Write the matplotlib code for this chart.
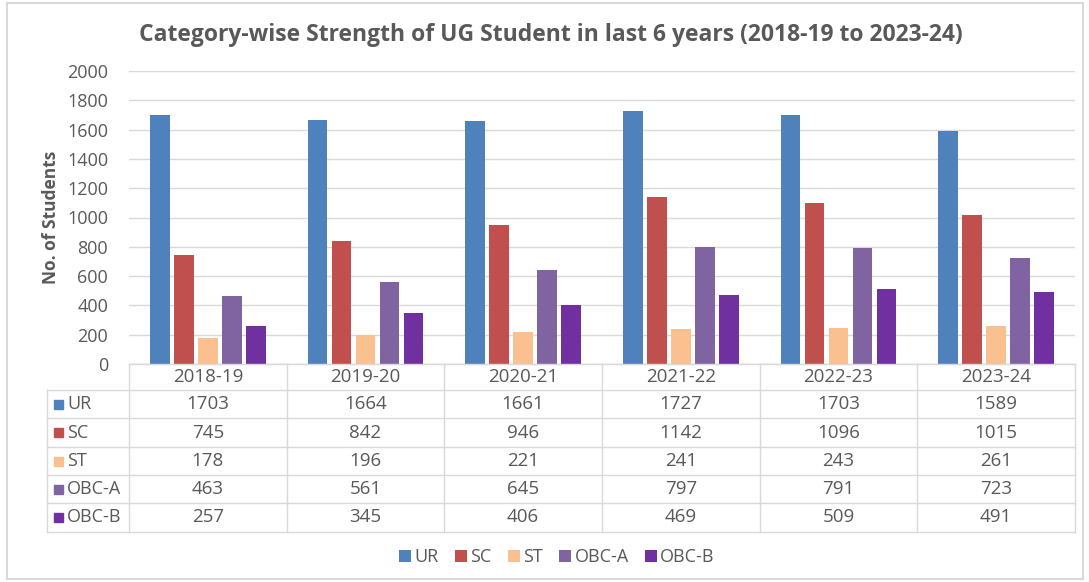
import matplotlib.pyplot as plt
from matplotlib.patches import Rectangle
import numpy as np

plt.rcParams['font.family'] = ['Open Sans', 'DejaVu Sans']

years = ['2018-19', '2019-20', '2020-21', '2021-22', '2022-23', '2023-24']
categories = ['UR', 'SC', 'ST', 'OBC-A', 'OBC-B']
UR = [1703, 1664, 1661, 1727, 1703, 1589]
SC = [745, 842, 946, 1142, 1096, 1015]
ST = [178, 196, 221, 241, 243, 261]
OBC_A = [463, 561, 645, 797, 791, 723]
OBC_B = [257, 345, 406, 469, 509, 491]
series = [UR, SC, ST, OBC_A, OBC_B]
colors = ['#4F81BD', '#C0504D', '#FAC090', '#8064A2', '#7030A0']

W, H = 1089, 582
txt = '#595959'
grid_c = '#D9D9D9'

def fx(px):
    return px / W

def fy(py):
    return 1 - py / H

fig = plt.figure(figsize=(W / 100, H / 100), dpi=100)

# outer border
fig.patches.append(Rectangle((fx(7), fy(579)), fx(1083) - fx(7), fy(3) - fy(579),
                             transform=fig.transFigure, fill=False,
                             edgecolor='#D9D9D9', linewidth=1.5))

# plot area
x0, x1, ytop, ybot = 129, 1075, 71, 364
ax = fig.add_axes([fx(x0), fy(ybot), fx(x1) - fx(x0), fy(ytop) - fy(ybot)])
x = np.arange(len(years))
step = 0.152
width = 0.125
for i, (vals, c, name) in enumerate(zip(series, colors, categories)):
    ax.bar(x + (i - 2) * step, vals, width, color=c, label=name, zorder=3)

ax.set_xlim(-0.5, len(years) - 0.5)
ax.set_ylim(0, 2000)
ax.set_yticks(range(0, 2001, 200))
ax.yaxis.grid(True, color=grid_c, linewidth=1, zorder=0)
ax.set_xticks([])
for s in ['top', 'right', 'left']:
    ax.spines[s].set_visible(False)
ax.spines['bottom'].set_color(grid_c)
ax.tick_params(axis='y', length=0, labelsize=13, labelcolor=txt, pad=15)
ax.set_ylabel('No. of Students', fontsize=12.5, color=txt, fontweight='bold', labelpad=5)

fig.text(fx(551), fy(35), 'Category-wise Strength of UG Student in last 6 years (2018-19 to 2023-24)',
         ha='center', va='center', fontsize=16.5, fontweight='bold', color=txt)

# data table
rows_y = [364, 390, 418, 447, 475, 503, 532]
colw = (x1 - x0) / len(years)
lx = 47
tf = fig.transFigure
for j in range(len(years) + 1):
    xx = x0 + j * colw
    fig.add_artist(plt.Line2D([fx(xx), fx(xx)], [fy(364), fy(532)], transform=tf,
                              color=grid_c, linewidth=1))
fig.add_artist(plt.Line2D([fx(lx), fx(lx)], [fy(390), fy(532)], transform=tf,
                          color=grid_c, linewidth=1))
for k, yy in enumerate(rows_y):
    left = x0 if k == 0 else lx
    fig.add_artist(plt.Line2D([fx(left), fx(x1)], [fy(yy), fy(yy)], transform=tf,
                              color=grid_c, linewidth=1))

for j, yr in enumerate(years):
    cx = x0 + (j + 0.5) * colw
    fig.text(fx(cx), fy((rows_y[0] + rows_y[1]) / 2), yr, ha='center', va='center',
             fontsize=13.5, color=txt)
    for i, vals in enumerate(series):
        cy = (rows_y[i + 1] + rows_y[i + 2]) / 2
        fig.text(fx(cx), fy(cy), str(vals[j]), ha='center', va='center',
                 fontsize=13.5, color=txt)

for i, (name, c) in enumerate(zip(categories, colors)):
    cy = (rows_y[i + 1] + rows_y[i + 2]) / 2
    fig.patches.append(Rectangle((fx(54), fy(cy + 4.5)), fx(9), fx(9) * W / H,
                                 transform=tf, color=c))
    fig.text(fx(67), fy(cy), name, ha='left', va='center', fontsize=13, color=txt)

fig.legend(loc='center', bbox_to_anchor=(fx(557), fy(557)), ncol=5, frameon=False,
           fontsize=13, labelcolor=txt, handlelength=0.65, handleheight=0.65,
           handletextpad=0.2, columnspacing=0.9)

fig.savefig('out.png', dpi=100)
